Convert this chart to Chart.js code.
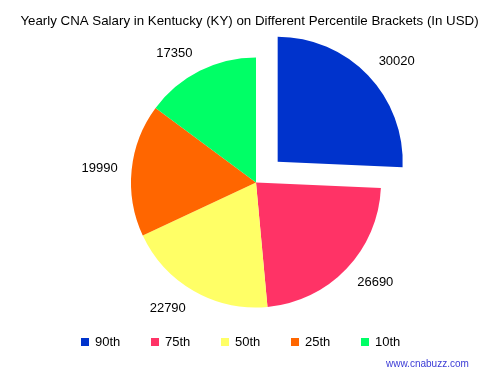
<!DOCTYPE html>
<html>
<head>
<meta charset="utf-8">
<script src="https://cdn.jsdelivr.net/npm/chart.js@4/dist/chart.umd.min.js"></script>
<style>
  html, body { margin: 0; padding: 0; background: #ffffff; }
  #wrap { position: relative; width: 499px; height: 381px; }
  canvas { display: block; }
</style>
</head>
<body>
<div id="wrap"><canvas id="c" width="499" height="381"></canvas></div>
<script>
const titleText = 'Yearly CNA Salary in Kentucky (KY) on Different Percentile Brackets (In USD)';
const categories = ['90th', '75th', '50th', '25th', '10th'];
const salaries = [30020, 26690, 22790, 19990, 17350];
const sliceColors = ['#0033cc', '#ff3366', '#ffff66', '#ff6600', '#00ff66'];
const explode = [120, 0, 0, 0, 0];
const watermark = 'www.cnabuzz.com';

const FONT = '"Liberation Sans", "DejaVu Sans", sans-serif';

const decorPlugin = {
  id: 'decor',
  afterDatasetsDraw(chart) {
    const ctx = chart.ctx;
    const meta = chart.getDatasetMeta(0);
    ctx.save();
    ctx.fillStyle = '#000000';
    ctx.font = '13px ' + FONT;
    ctx.textBaseline = 'middle';
    meta.data.forEach((arc, i) => {
      const p = arc.getProps(['x', 'y', 'startAngle', 'endAngle', 'outerRadius'], true);
      const mid = (p.startAngle + p.endAngle) / 2;
      const off = (arc.options.offset || 0) / 4;
      const cx = p.x + Math.cos(mid) * off;
      const cy = p.y + Math.sin(mid) * off;
      const c = Math.cos(mid), s = Math.sin(mid);
      let lx = cx + c * (p.outerRadius + 12);
      const ly = cy + s * (p.outerRadius + 20);
      if (c >= 0) { ctx.textAlign = 'left'; lx += 2; }
      else { ctx.textAlign = 'right'; lx -= 2; }
      ctx.fillText(String(chart.data.datasets[0].data[i]), lx, ly);
    });
    ctx.restore();
  },
  afterDraw(chart) {
    const ctx = chart.ctx;
    ctx.save();
    // title
    ctx.fillStyle = '#000000';
    ctx.font = '13.3px ' + FONT;
    ctx.textAlign = 'center';
    ctx.textBaseline = 'middle';
    ctx.fillText(titleText, 249.5, 21);
    // legend
    ctx.textAlign = 'left';
    categories.forEach((lab, i) => {
      const bx = 81 + i * 70;
      ctx.fillStyle = sliceColors[i];
      ctx.fillRect(bx, 338, 8, 8);
      ctx.fillStyle = '#000000';
      ctx.font = '13px ' + FONT;
      ctx.fillText(lab, bx + 14, 342.5);
    });
    // watermark
    ctx.fillStyle = '#3b3bd6';
    ctx.font = '10px ' + FONT;
    ctx.textAlign = 'left';
    ctx.fillText(watermark, 386, 364.5);
    ctx.restore();
  }
};

new Chart(document.getElementById('c'), {
  type: 'pie',
  data: {
    labels: categories,
    datasets: [{
      data: salaries,
      backgroundColor: sliceColors,
      borderWidth: 0,
      offset: explode,
      radius: 125
    }]
  },
  options: {
    responsive: false,
    animation: false,
    events: [],
    radius: 125,
    layout: { padding: { left: 13, right: 0, top: 0, bottom: 16 } },
    plugins: {
      legend: { display: false },
      title: { display: false },
      tooltip: { enabled: false }
    }
  },
  plugins: [decorPlugin]
});
</script>
</body>
</html>
